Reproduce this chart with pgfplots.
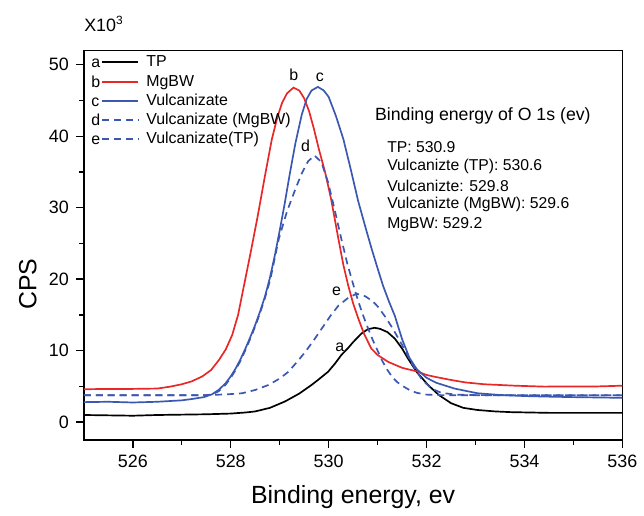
\documentclass[border=0pt]{standalone}
\usepackage{fontspec}
\setmainfont{Liberation Sans}
\usepackage{pgfplots}
\pgfplotsset{compat=1.18}
\definecolor{cred}{RGB}{232,40,40}
\definecolor{cblue}{RGB}{58,88,178}
\pgfplotsset{
  leg/.style 2 args={legend image code/.code={%
    \path[draw=none,fill=none] (0pt,-3pt) rectangle (24pt,3pt);
    \node[overlay,draw=none,fill=none,anchor=base west,inner sep=0pt,text=black,font=\fontsize{8}{8.65}\selectfont] at (0pt,-2.8pt) {#1};
    \draw[#2, line width=1pt] (5.85pt,0pt) -- (24pt,0pt);}}
}
\begin{document}
\begin{tikzpicture}
\begin{axis}[
  scale only axis, width=270.7pt, height=195.8pt,
  xmin=525, xmax=536, ymin=-2.5, ymax=52,
  xtick={526,528,...,536}, ytick={0,10,...,50},
  minor x tick num=1, minor y tick num=1,
  tick pos=left, tick align=outside,
  major tick length=4pt, minor tick length=2.5pt,
  every tick/.style={black, line width=0.7pt},
  axis line style={line width=0.8pt},
  tick label style={font=\fontsize{9}{10}\selectfont},
  /pgf/number format/assume math mode=true,
  xlabel={Binding energy, ev}, ylabel={CPS},
  label style={font=\fontsize{12.5}{15}\selectfont},
  xlabel style={yshift=-2pt},
  ylabel style={at={(axis description cs:-0.104,0.40)}, anchor=center},
  clip=false,
  legend cell align=left,
  legend style={draw=none, fill=none, at={(0,1)}, anchor=north west, yshift=-1.5pt, xshift=3.2pt,
    inner sep=0pt, row sep=1.1pt, /tikz/column sep=3pt,
    font=\fontsize{8}{8.65}\selectfont,
    nodes={inner sep=0.5pt}},
]
\path (axis description cs:-0.1557,-0.178) rectangle (axis description cs:1.0338,1.1295);

\addplot[black, line width=0.85pt, leg={a}{black}] coordinates {
(525.0,1.0) (525.5,0.95) (526.0,0.9) (526.5,1.0) (527.0,1.05) (527.5,1.1) (528.0,1.2)
(528.3,1.35) (528.5,1.5) (528.8,2.0) (529.11,2.9) (529.4,4.0) (529.65,5.2) (529.8,6.0)
(529.99,7.06) (530.13,8.2) (530.26,9.4) (530.4,10.4) (530.5,11.2) (530.67,12.4) (530.8,13.0)
(530.94,13.2) (531.05,13.05) (531.2,12.6) (531.35,11.7) (531.5,10.3) (531.62,8.9) (531.8,7.0)
(532.03,5.2) (532.25,3.8) (532.5,2.65) (532.75,2.0) (533.04,1.7) (533.4,1.5) (533.72,1.4)
(534.5,1.3) (535.0,1.3) (535.5,1.3) (536.0,1.3)};
\addlegendentry{\strut TP}

\addplot[cred, line width=0.85pt, leg={b}{cred}] coordinates {
(525.0,4.6) (525.5,4.65) (526.0,4.65) (526.5,4.7) (526.75,4.95) (527.0,5.3) (527.2,5.7)
(527.42,6.4) (527.6,7.3) (527.76,8.7) (527.9,10.2) (528.03,12.2) (528.15,15.0) (528.27,19.1)
(528.4,23.5) (528.55,28.8) (528.7,34.5) (528.84,39.6) (528.95,42.6) (529.05,44.7) (529.15,46.0)
(529.28,46.8) (529.4,46.4) (529.5,45.3) (529.6,43.5) (529.7,41.0) (529.8,38.2) (529.93,34.9)
(530.05,31.2) (530.2,25.6) (530.3,22.0) (530.4,19.1) (530.5,16.6) (530.6,14.6) (530.72,12.4)
(530.87,10.3) (531.0,9.4) (531.21,8.45) (531.5,7.6) (531.8,7.1) (532.0,6.6) (532.2,6.3)
(532.5,5.9) (532.8,5.55) (533.18,5.3) (533.8,5.1) (534.4,4.97) (535.0,5.0) (535.5,5.0) (536.0,5.1)};
\addlegendentry{\strut MgBW}

\addplot[cblue, line width=0.85pt, leg={c}{cblue}] coordinates {
(525.0,2.8) (525.5,2.85) (526.0,2.75) (526.5,2.85) (527.0,3.05) (527.22,3.25) (527.45,3.5)
(527.62,3.9) (527.75,4.5) (527.89,5.4) (528.0,6.4) (528.1,7.5) (528.2,8.8) (528.3,10.3)
(528.4,11.9) (528.5,13.6) (528.6,15.5) (528.7,17.6) (528.8,20.2) (528.9,23.3) (529.0,26.8)
(529.1,30.5) (529.2,34.5) (529.32,39.0) (529.45,43.0) (529.55,45.2) (529.65,46.4) (529.78,46.9)
(529.9,46.4) (530.0,45.5) (530.15,42.8) (530.3,39.6) (530.45,35.4) (530.6,31.0) (530.75,27.3)
(530.88,24.2) (531.0,21.5) (531.11,19.1) (531.23,16.9) (531.35,14.9) (531.5,11.6) (531.65,9.0)
(531.8,7.4) (532.0,6.2) (532.2,5.5) (532.57,4.7) (533.04,4.04) (533.5,3.8) (534.0,3.65)
(534.4,3.58) (535.0,3.5) (535.5,3.45) (536.0,3.4)};
\addlegendentry{\strut Vulcanizate}

\addplot[cblue, line width=0.85pt, dash pattern=on 3.5pt off 2.5pt, leg={d}{cblue, dash pattern=on 3.5pt off 2.5pt}] coordinates {
(525.0,3.76) (526.0,3.76) (527.0,3.76) (527.5,3.78) (527.6,3.85) (527.75,4.3) (527.89,5.2)
(528.0,6.2) (528.1,7.3) (528.2,8.6) (528.3,10.1) (528.4,11.7) (528.5,13.4) (528.6,15.3)
(528.7,17.4) (528.81,20.0) (528.98,25.6) (529.15,29.5) (529.32,32.6) (529.45,34.8) (529.58,36.5)
(529.71,37.3) (529.85,36.4) (529.99,33.5) (530.12,29.8) (530.26,25.6) (530.38,22.2) (530.5,19.3)
(530.6,17.0) (530.7,15.0) (530.8,13.2) (530.9,11.5) (531.0,10.0) (531.1,8.5) (531.2,7.3)
(531.3,6.3) (531.4,5.6) (531.5,5.1) (531.65,4.5) (531.8,4.1) (532.0,3.85) (532.3,3.78)
(533.0,3.76) (534.0,3.76) (535.0,3.76) (536.0,3.76)};
\addlegendentry{\strut Vulcanizate (MgBW)}

\addplot[cblue, line width=0.85pt, dash pattern=on 3.5pt off 2.5pt, leg={e}{cblue, dash pattern=on 3.5pt off 2.5pt}] coordinates {
(525.0,3.76) (526.0,3.76) (527.0,3.76) (527.5,3.78) (527.9,3.88) (528.23,4.04) (528.5,4.5)
(528.77,5.2) (529.0,6.1) (529.18,7.06) (529.35,8.4) (529.52,9.8) (529.7,11.5) (529.86,13.1)
(530.05,15.0) (530.2,16.3) (530.4,17.4) (530.57,17.97) (530.75,17.6) (530.9,16.9) (531.0,16.2)
(531.15,14.8) (531.3,13.2) (531.5,10.8) (531.7,8.2) (531.9,6.0) (532.1,4.7) (532.3,4.1)
(532.6,3.85) (533.0,3.78) (534.0,3.76) (535.0,3.76) (536.0,3.76)};
\addlegendentry{\strut Vulcanizate(TP)}

\begin{scope}[every node/.style={font=\fontsize{8}{9}\selectfont, inner sep=0pt}]
\node at (axis cs:529.29,48.6) {b};
\node at (axis cs:529.82,48.2) {c};
\node at (axis cs:529.53,38.6) {d};
\node at (axis cs:530.16,18.3) {e};
\node at (axis cs:530.23,10.5) {a};
\end{scope}
\node[anchor=west, inner sep=0pt, font=\fontsize{8.9}{10}\selectfont] at (axis cs:530.94,42.9) {Binding energy of O 1s (ev)};
\begin{scope}[every node/.style={anchor=west, inner sep=0pt, font=\fontsize{7.9}{9}\selectfont}]
\node at (axis cs:531.19,38.44) {TP: 530.9};
\node at (axis cs:531.19,35.79) {Vulcanizte (TP): 530.6};
\node at (axis cs:531.19,33.0) {Vulcanizte: 529.8};
\node at (axis cs:531.19,30.5) {Vulcanizte (MgBW): 529.6};
\node at (axis cs:531.19,27.7) {MgBW: 529.2};
\end{scope}
\node[anchor=west, inner sep=0pt, font=\fontsize{9}{10}\selectfont] at (axis description cs:0,1.068) {X10\textsuperscript{3}};
\end{axis}
\end{tikzpicture}
\end{document}
